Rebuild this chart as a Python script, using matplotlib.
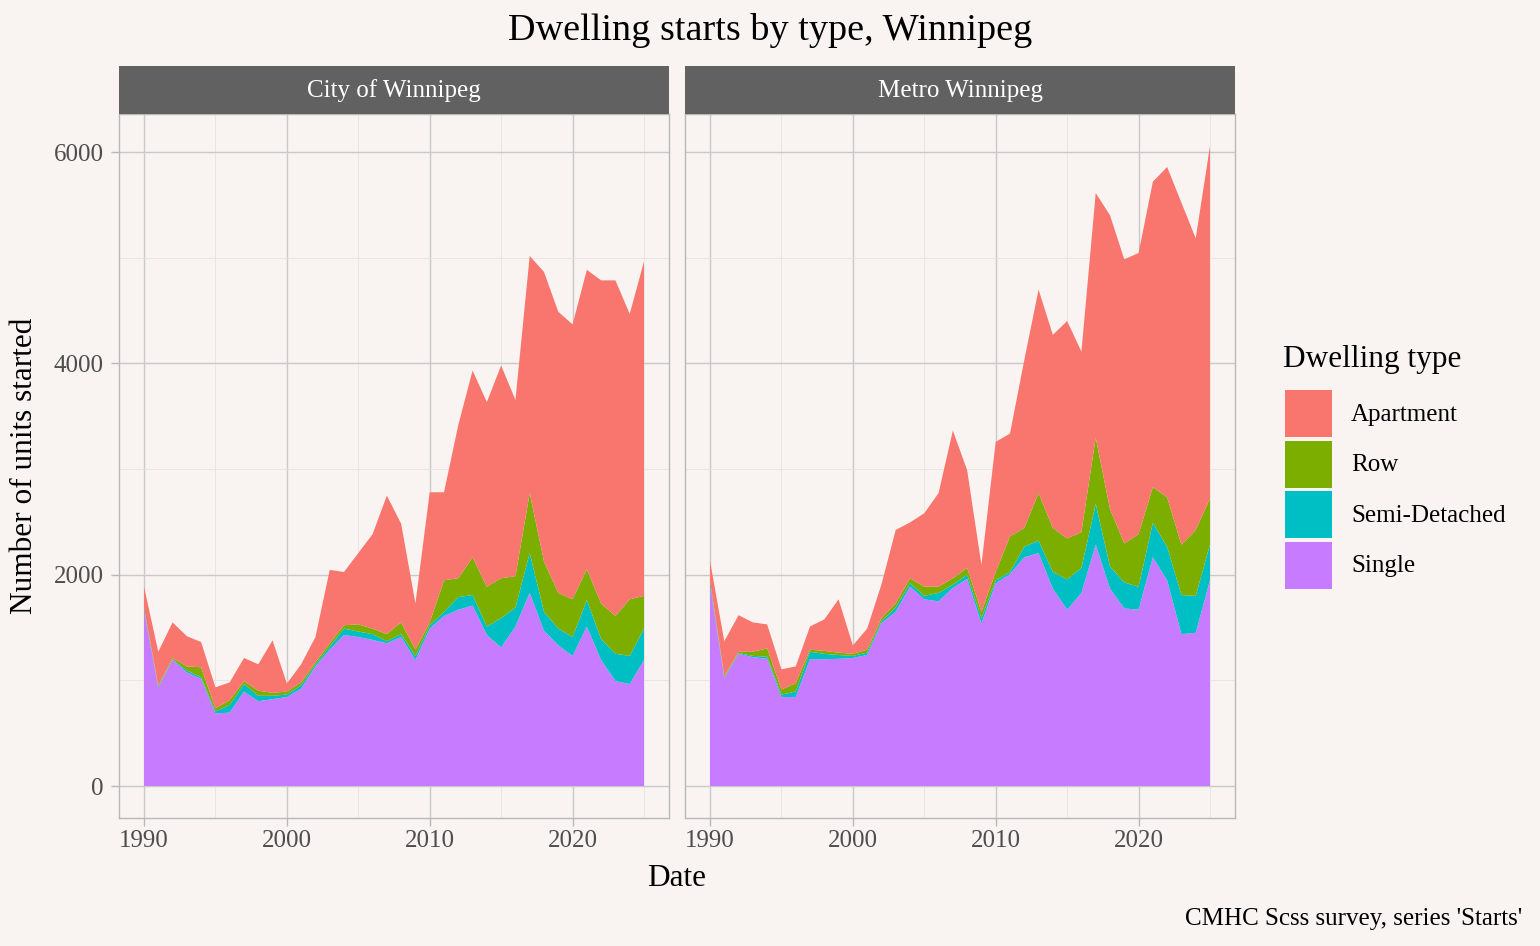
import matplotlib
matplotlib.use("Agg")
import matplotlib.pyplot as plt
from matplotlib.patches import Rectangle
import numpy as np

years = list(range(1990, 2026))

city_single = [1660, 930, 1195, 1075, 1015, 687, 695, 894, 803, 822, 842, 922, 1132, 1290, 1430, 1410, 1383, 1351,
               1410, 1192, 1490, 1609, 1669, 1708, 1430, 1311, 1510, 1828, 1470, 1331, 1232, 1510, 1192, 993, 965, 1192]
city_semi = [20, 10, 5, 18, 15, 20, 72, 71, 51, 32, 24, 32, 18, 30, 60, 52, 55, 20,
             28, 38, 30, 40, 119, 100, 80, 278, 179, 377, 179, 159, 178, 250, 199, 259, 267, 298]
city_row = [10, 10, 12, 39, 94, 28, 47, 28, 48, 28, 28, 27, 22, 30, 32, 68, 52, 67,
            111, 61, 29, 298, 179, 357, 377, 378, 297, 568, 477, 338, 358, 294, 337, 357, 536, 310]
city_apt = [197, 321, 337, 286, 239, 199, 167, 219, 250, 497, 76, 171, 238, 696, 504, 675, 894, 1311,
            934, 437, 1232, 834, 1450, 1768, 1748, 2014, 1669, 2245, 2741, 2661, 2602, 2833, 3059, 3178, 2701, 3166]

metro_single = [1900, 1021, 1251, 1220, 1204, 842, 842, 1200, 1200, 1204, 1212, 1240, 1541, 1649, 1887, 1768, 1748, 1875,
                1960, 1538, 1919, 2006, 2165, 2205, 1868, 1669, 1828, 2285, 1868, 1681, 1669, 2165, 1947, 1438, 1450, 1947]
metro_semi = [30, 9, 8, 12, 20, 24, 52, 71, 51, 36, 20, 23, 19, 41, 33, 32, 80, 32,
              40, 51, 28, 20, 100, 119, 158, 286, 238, 385, 210, 246, 218, 326, 318, 370, 350, 338]
metro_row = [15, 10, 12, 39, 79, 48, 79, 20, 28, 23, 19, 28, 29, 38, 47, 87, 59, 60,
             66, 60, 79, 338, 178, 449, 417, 389, 338, 628, 544, 370, 497, 338, 469, 477, 624, 437]
metro_apt = [188, 331, 346, 278, 227, 191, 159, 219, 298, 505, 80, 199, 318, 696, 528, 695, 886, 1398,
             924, 445, 1232, 973, 1590, 1927, 1828, 2058, 1708, 2316, 2781, 2689, 2662, 2892, 3126, 3237, 2761, 3337]

panels = ["City of Winnipeg", "Metro Winnipeg"]
types = ["Apartment", "Row", "Semi-Detached", "Single"]
colors = {"Apartment": "#F8766D", "Row": "#7CAE00", "Semi-Detached": "#00BFC4", "Single": "#C77CFF"}

data = {
    "City of Winnipeg": {"Single": city_single, "Semi-Detached": city_semi, "Row": city_row, "Apartment": city_apt},
    "Metro Winnipeg": {"Single": metro_single, "Semi-Detached": metro_semi, "Row": metro_row, "Apartment": metro_apt},
}

BG = "#F9F4F1"
FONT = ["Liberation Serif", "DejaVu Serif"]
plt.rcParams["font.family"] = FONT

W, H = 1540, 946
fig = plt.figure(figsize=(W / 100, H / 100), dpi=100, facecolor=BG)

def fx(px):
    return px / W

def fy(py):
    return 1 - py / H

panel_left = [119, 685]
panel_w = 550
panel_top, panel_bot = 114, 818
strip_top = 66

totals = []
for p in panels:
    d = data[p]
    totals.append(max(np.array(d["Single"]) + np.array(d["Semi-Detached"]) + np.array(d["Row"]) + np.array(d["Apartment"])))
ymax = max(totals)
ylim = (-0.05 * ymax, 1.05 * ymax)
xr = years[-1] - years[0]
xlim = (years[0] - 0.05 * xr, years[-1] + 0.05 * xr)

for i, p in enumerate(panels):
    ax = fig.add_axes([fx(panel_left[i]), fy(panel_bot), fx(panel_w), (panel_bot - panel_top) / H])
    ax.set_facecolor(BG)
    d = data[p]
    stack_order = ["Single", "Semi-Detached", "Row", "Apartment"]
    ax.stackplot(years, *[d[t] for t in stack_order], colors=[colors[t] for t in stack_order],
                 linewidth=0, zorder=2)
    ax.set_xlim(*xlim)
    ax.set_ylim(*ylim)
    ax.set_xticks([1990, 2000, 2010, 2020])
    ax.set_xticks([1995, 2005, 2015, 2025], minor=True)
    ax.set_yticks([0, 2000, 4000, 6000])
    ax.set_yticks([1000, 3000, 5000], minor=True)
    ax.grid(which="major", color="#C9C9C9", linewidth=1.0, zorder=0)
    ax.grid(which="minor", color="#E6E3E1", linewidth=0.6, zorder=0)
    ax.set_axisbelow(True)
    for s in ax.spines.values():
        s.set_color("#B8B8B8")
        s.set_linewidth(1.0)
        s.set_zorder(5)
    ax.tick_params(which="major", length=6, width=1.0, color="#B8B8B8", labelsize=18,
                   labelcolor="#4D4D4D")
    ax.tick_params(axis="x", which="major", pad=2.5)
    ax.tick_params(axis="y", which="major", pad=5)
    ax.tick_params(which="minor", length=0)
    if i == 1:
        ax.tick_params(axis="y", which="major", labelleft=False, length=0)
    fig.patches.append(Rectangle((fx(panel_left[i]), fy(panel_top)), fx(panel_w), (panel_top - strip_top) / H,
                                 transform=fig.transFigure, facecolor="#616161", edgecolor="none"))
    fig.text(fx(panel_left[i] + panel_w / 2), fy((strip_top + panel_top) / 2 + 1), p, color="white",
             fontsize=18, ha="center", va="center")

fig.text(fx(770), fy(30), "Dwelling starts by type, Winnipeg", fontsize=27.5, ha="center", va="center")
fig.text(fx(677), fy(878), "Date", fontsize=22.5, ha="center", va="center")
fig.text(fx(25), fy(466), "Number of units started", fontsize=22.5, ha="center", va="center", rotation=90)
fig.text(fx(1522), fy(919), "CMHC Scss survey, series 'Starts'", fontsize=18, ha="right", va="center")

# legend (drawn manually to match key geometry)
fig.text(fx(1283), fy(359), "Dwelling type", fontsize=22.5, ha="left", va="center")
key_x, key_w, key_h, key_step, key_top0 = 1285, 47, 47, 50.6, 390
for k, t in enumerate(types):
    top = key_top0 + k * key_step
    fig.patches.append(Rectangle((fx(key_x), fy(top + key_h)), fx(key_w), key_h / H,
                                 transform=fig.transFigure, facecolor=colors[t], edgecolor="none"))
    fig.text(fx(1351), fy(top + key_h / 2 + 1), t, fontsize=18, ha="left", va="center")

fig.savefig("out.png", dpi=100, facecolor=BG)
